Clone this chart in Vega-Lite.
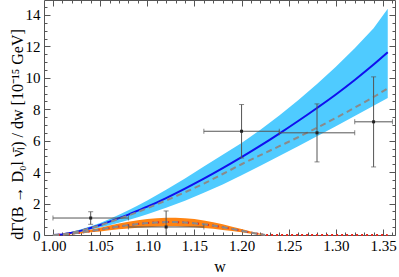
{
  "$schema": "https://vega.github.io/schema/vega-lite/v6.json",
  "width": 351,
  "height": 235,
  "autosize": {"type": "none"},
  "padding": {"left": 44, "top": 0, "right": 4, "bottom": 42},
  "config": {
    "view": {"stroke": null},
    "font": "Liberation Serif",
    "axis": {"labelFont": "Liberation Serif", "titleFont": "Liberation Serif", "labelColor": "#000", "titleColor": "#000", "titleFontWeight": "normal", "domainColor": "#555", "tickColor": "#555", "grid": false}
  },
  "datasets": {
    "blue": [
      {"w": 1.000, "lo": 0, "mid": 0, "hi": 0, "gray": 0},
      {"w": 1.010, "lo": 0.02, "mid": 0.04, "hi": 0.05, "gray": 0.04},
      {"w": 1.020, "lo": 0.1, "mid": 0.15, "hi": 0.2, "gray": 0.15},
      {"w": 1.030, "lo": 0.2, "mid": 0.28, "hi": 0.36, "gray": 0.28},
      {"w": 1.040, "lo": 0.33, "mid": 0.45, "hi": 0.55, "gray": 0.44},
      {"w": 1.050, "lo": 0.47, "mid": 0.64, "hi": 0.77, "gray": 0.62},
      {"w": 1.060, "lo": 0.62, "mid": 0.85, "hi": 1.02, "gray": 0.82},
      {"w": 1.070, "lo": 0.78, "mid": 1.07, "hi": 1.29, "gray": 1.03},
      {"w": 1.080, "lo": 0.95, "mid": 1.3, "hi": 1.57, "gray": 1.24},
      {"w": 1.090, "lo": 1.13, "mid": 1.55, "hi": 1.88, "gray": 1.47},
      {"w": 1.100, "lo": 1.32, "mid": 1.8, "hi": 2.2, "gray": 1.7},
      {"w": 1.120, "lo": 1.73, "mid": 2.35, "hi": 2.88, "gray": 2.2},
      {"w": 1.140, "lo": 2.18, "mid": 2.95, "hi": 3.6, "gray": 2.72},
      {"w": 1.160, "lo": 2.68, "mid": 3.58, "hi": 4.35, "gray": 3.27},
      {"w": 1.180, "lo": 3.22, "mid": 4.25, "hi": 5.1, "gray": 3.88},
      {"w": 1.200, "lo": 3.8, "mid": 4.95, "hi": 5.85, "gray": 4.5},
      {"w": 1.220, "lo": 4.4, "mid": 5.68, "hi": 6.7, "gray": 5.08},
      {"w": 1.240, "lo": 5.02, "mid": 6.45, "hi": 7.6, "gray": 5.65},
      {"w": 1.260, "lo": 5.65, "mid": 7.25, "hi": 8.57, "gray": 6.22},
      {"w": 1.280, "lo": 6.28, "mid": 8.08, "hi": 9.6, "gray": 6.82},
      {"w": 1.300, "lo": 6.92, "mid": 8.94, "hi": 10.7, "gray": 7.45},
      {"w": 1.320, "lo": 7.57, "mid": 9.86, "hi": 11.88, "gray": 8.1},
      {"w": 1.340, "lo": 8.22, "mid": 10.84, "hi": 13.15, "gray": 8.78},
      {"w": 1.355, "lo": 8.72, "mid": 11.62, "hi": 14.4, "gray": 9.33}
    ],
    "orange": [
      {"w": 1.00, "lo": 0, "mid": 0, "hi": 0},
      {"w": 1.01, "lo": 0.01, "mid": 0.02, "hi": 0.03},
      {"w": 1.02, "lo": 0.05, "mid": 0.08, "hi": 0.1},
      {"w": 1.03, "lo": 0.1, "mid": 0.16, "hi": 0.21},
      {"w": 1.04, "lo": 0.17, "mid": 0.25, "hi": 0.33},
      {"w": 1.05, "lo": 0.23, "mid": 0.35, "hi": 0.46},
      {"w": 1.06, "lo": 0.3, "mid": 0.45, "hi": 0.6},
      {"w": 1.07, "lo": 0.36, "mid": 0.54, "hi": 0.73},
      {"w": 1.08, "lo": 0.42, "mid": 0.63, "hi": 0.85},
      {"w": 1.09, "lo": 0.46, "mid": 0.7, "hi": 0.94},
      {"w": 1.10, "lo": 0.5, "mid": 0.76, "hi": 1.02},
      {"w": 1.11, "lo": 0.53, "mid": 0.8, "hi": 1.07},
      {"w": 1.12, "lo": 0.55, "mid": 0.82, "hi": 1.1},
      {"w": 1.13, "lo": 0.55, "mid": 0.82, "hi": 1.1},
      {"w": 1.14, "lo": 0.53, "mid": 0.8, "hi": 1.07},
      {"w": 1.15, "lo": 0.5, "mid": 0.75, "hi": 1.01},
      {"w": 1.16, "lo": 0.45, "mid": 0.68, "hi": 0.92},
      {"w": 1.17, "lo": 0.39, "mid": 0.6, "hi": 0.81},
      {"w": 1.18, "lo": 0.32, "mid": 0.5, "hi": 0.68},
      {"w": 1.19, "lo": 0.25, "mid": 0.39, "hi": 0.53},
      {"w": 1.20, "lo": 0.17, "mid": 0.27, "hi": 0.38},
      {"w": 1.21, "lo": 0.08, "mid": 0.15, "hi": 0.22},
      {"w": 1.22, "lo": 0.02, "mid": 0.05, "hi": 0.08},
      {"w": 1.225, "lo": 0, "mid": 0, "hi": 0},
      {"w": 1.355, "lo": 0, "mid": 0, "hi": 0}
    ],
    "pts": [
      {"w": 1.04, "v": 1.08, "wlo": 1.00, "whi": 1.08, "vlo": 0.68, "vhi": 1.48},
      {"w": 1.12, "v": 0.51, "wlo": 1.08, "whi": 1.16, "vlo": -0.5, "vhi": 1.53},
      {"w": 1.20, "v": 6.6, "wlo": 1.16, "whi": 1.24, "vlo": 4.9, "vhi": 8.3},
      {"w": 1.28, "v": 6.5, "wlo": 1.24, "whi": 1.32, "vlo": 4.65, "vhi": 8.34},
      {"w": 1.34, "v": 7.2, "wlo": 1.32, "whi": 1.36, "vlo": 4.33, "vhi": 10.06}
    ]
  },
  "resolve": {"axis": {"x": "independent", "y": "independent"}},
  "layer": [
    {
      "data": {"name": "blue"},
      "mark": {"type": "area", "color": "#4fcbff", "opacity": 1},
      "encoding": {
        "x": {"field": "w", "type": "quantitative", "scale": {"domain": [0.9905, 1.3627], "nice": false, "zero": false},
          "axis": {"orient": "bottom", "title": "w", "titleFontSize": 16, "titleY": 36, "titleBaseline": "alphabetic",
            "values": [0.99,1.0,1.01,1.02,1.03,1.04,1.05,1.06,1.07,1.08,1.09,1.1,1.11,1.12,1.13,1.14,1.15,1.16,1.17,1.18,1.19,1.2,1.21,1.22,1.23,1.24,1.25,1.26,1.27,1.28,1.29,1.3,1.31,1.32,1.33,1.34,1.35,1.36],
            "labelExpr": "abs(datum.value*20 - round(datum.value*20)) < 0.01 ? format(datum.value, '.2f') : ''",
            "tickSize": {"condition": {"test": "abs(datum.value*20 - round(datum.value*20)) < 0.01", "value": -6}, "value": -3},
            "labelFontSize": 15, "labelPadding": 9, "labelFlush": false, "labelOverlap": false, "labelBaseline": "top"}},
        "y": {"field": "lo", "type": "quantitative", "scale": {"domain": [0, 14.95], "nice": false, "zero": false},
          "axis": {"orient": "left", "title": "dΓ(B → D₀l ν̄ₗ) / dw [10⁻¹⁵ GeV]", "titleFontSize": 16, "titleX": -22, "titleY": 134, "titleAngle": -90, "titleAlign": "center", "titleBaseline": "alphabetic",
            "values": [0,0.5,1,1.5,2,2.5,3,3.5,4,4.5,5,5.5,6,6.5,7,7.5,8,8.5,9,9.5,10,10.5,11,11.5,12,12.5,13,13.5,14,14.5],
            "labelExpr": "datum.value % 2 == 0 ? format(datum.value, 'd') : ''",
            "tickSize": {"condition": {"test": "datum.value % 2 == 0", "value": -6}, "value": -3},
            "labelFontSize": 15, "labelPadding": 10, "labelFlush": false, "labelOverlap": false, "labelBaseline": "middle"}},
        "y2": {"field": "hi"}
      }
    },
    {
      "data": {"name": "orange"},
      "mark": {"type": "area", "color": "#ff8412", "opacity": 1},
      "encoding": {
        "x": {"field": "w", "type": "quantitative",
          "axis": {"orient": "top", "title": null, "labels": false,
            "values": [0.99,1.0,1.01,1.02,1.03,1.04,1.05,1.06,1.07,1.08,1.09,1.1,1.11,1.12,1.13,1.14,1.15,1.16,1.17,1.18,1.19,1.2,1.21,1.22,1.23,1.24,1.25,1.26,1.27,1.28,1.29,1.3,1.31,1.32,1.33,1.34,1.35,1.36],
            "tickSize": {"condition": {"test": "abs(datum.value*20 - round(datum.value*20)) < 0.01", "value": -6}, "value": -3}}},
        "y": {"field": "lo", "type": "quantitative",
          "axis": {"orient": "right", "title": null, "labels": false,
            "values": [0,0.5,1,1.5,2,2.5,3,3.5,4,4.5,5,5.5,6,6.5,7,7.5,8,8.5,9,9.5,10,10.5,11,11.5,12,12.5,13,13.5,14,14.5],
            "tickSize": {"condition": {"test": "datum.value % 2 == 0", "value": -6}, "value": -3}}},
        "y2": {"field": "hi"}
      }
    },
    {
      "data": {"name": "blue"},
      "mark": {"type": "line", "color": "#1010ee", "strokeWidth": 2, "interpolate": "monotone"},
      "encoding": {
        "x": {"field": "w", "type": "quantitative", "axis": null},
        "y": {"field": "mid", "type": "quantitative", "axis": null}
      }
    },
    {
      "data": {"name": "orange"},
      "mark": {"type": "line", "color": "#e8281e", "strokeWidth": 2, "strokeDash": [2, 3]},
      "encoding": {
        "x": {"field": "w", "type": "quantitative", "axis": null},
        "y": {"field": "mid", "type": "quantitative", "axis": null}
      }
    },
    {
      "data": {"name": "blue"},
      "mark": {"type": "line", "color": "#8a8a8a", "strokeWidth": 2, "strokeDash": [6, 4], "interpolate": "monotone"},
      "encoding": {
        "x": {"field": "w", "type": "quantitative", "axis": null},
        "y": {"field": "gray", "type": "quantitative", "axis": null}
      }
    },
    {
      "data": {"name": "orange"},
      "transform": [{"filter": "datum.w <= 1.23"}],
      "mark": {"type": "line", "color": "#8a8a8a", "strokeWidth": 2, "strokeDash": [6, 4]},
      "encoding": {
        "x": {"field": "w", "type": "quantitative", "axis": null},
        "y": {"field": "mid", "type": "quantitative", "axis": null}
      }
    },
    {
      "data": {"name": "pts"},
      "mark": {"type": "rule", "color": "#555", "strokeWidth": 1, "clip": true},
      "encoding": {
        "x": {"field": "w", "type": "quantitative", "axis": null},
        "y": {"field": "vlo", "type": "quantitative", "axis": null},
        "y2": {"field": "vhi"}
      }
    },
    {
      "data": {"name": "pts"},
      "mark": {"type": "rule", "color": "#555", "strokeWidth": 1, "clip": true},
      "encoding": {
        "x": {"field": "wlo", "type": "quantitative", "axis": null},
        "x2": {"field": "whi"},
        "y": {"field": "v", "type": "quantitative", "axis": null}
      }
    },
    {
      "data": {"name": "pts"},
      "transform": [{"fold": ["vlo", "vhi"], "as": ["k", "cap"]}],
      "mark": {"type": "tick", "color": "#555", "orient": "horizontal", "size": 5, "thickness": 1, "clip": true},
      "encoding": {
        "x": {"field": "w", "type": "quantitative", "axis": null},
        "y": {"field": "cap", "type": "quantitative", "axis": null}
      }
    },
    {
      "data": {"name": "pts"},
      "transform": [{"fold": ["wlo", "whi"], "as": ["k", "cap"]}],
      "mark": {"type": "tick", "color": "#555", "orient": "vertical", "size": 5, "thickness": 1, "clip": true},
      "encoding": {
        "x": {"field": "cap", "type": "quantitative", "axis": null},
        "y": {"field": "v", "type": "quantitative", "axis": null}
      }
    },
    {
      "data": {"name": "pts"},
      "mark": {"type": "square", "color": "#222", "opacity": 1, "size": 9},
      "encoding": {
        "x": {"field": "w", "type": "quantitative", "axis": null},
        "y": {"field": "v", "type": "quantitative", "axis": null}
      }
    }
  ]
}
